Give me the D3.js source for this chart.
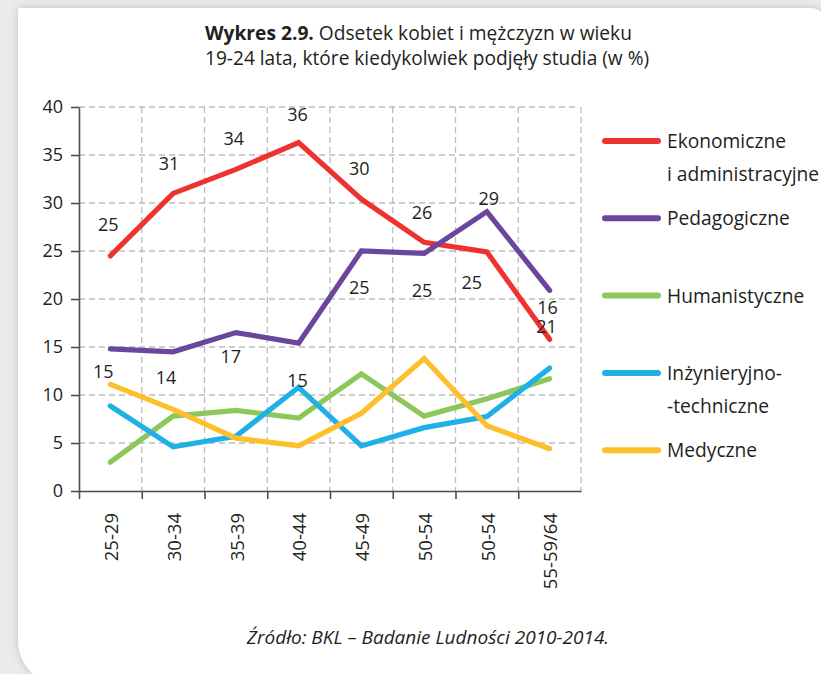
<!DOCTYPE html>
<html>
<head>
<meta charset="utf-8">
<script src="https://cdn.jsdelivr.net/npm/d3@7"></script>
<style>
  html, body { margin: 0; padding: 0; background: #ebebeb; }
  svg { display: block; }
  text { font-family: "Open Sans", "Noto Sans", sans-serif; fill: #231f20; }
</style>
</head>
<body>
<script>
// ---------------- data ----------------
const categories = ["25-29", "30-34", "35-39", "40-44", "45-49", "50-54", "50-54", "55-59/64"];
const ekonomiczne   = [24.5, 31.0, 33.5, 36.3, 30.4, 25.9, 24.9, 15.8];
const pedagogiczne  = [14.8, 14.5, 16.5, 15.4, 25.0, 24.75, 29.1, 20.9];
const humanistyczne = [3.0, 7.8, 8.4, 7.6, 12.2, 7.8, 9.6, 11.7];
const inzynieryjno  = [8.85, 4.6, 5.7, 10.8, 4.7, 6.6, 7.75, 12.8];
const medyczne      = [11.1, 8.5, 5.5, 4.7, 8.1, 13.8, 6.8, 4.4];
const ekonomiczneLabels  = ["25", "31", "34", "36", "30", "26", "25", "16"];
const pedagogiczneLabels = ["15", "14", "17", "15", "25", "25", "29", "21"];
const yTicks = [0, 5, 10, 15, 20, 25, 30, 35, 40];
const legendNames = [["Ekonomiczne", "i administracyjne"], ["Pedagogiczne"], ["Humanistyczne"], ["Inżynieryjno-", "-techniczne"], ["Medyczne"]];
const titleBold = "Wykres 2.9.";
const titleRest = " Odsetek kobiet i mężczyzn w wieku";
const titleLine2 = "19-24 lata, które kiedykolwiek podjęły studia (w %)";
const sourceText = "Źródło: BKL – Badanie Ludności 2010-2014.";

// ---------------- styles / layout ----------------
const colors = ["#ee3231", "#6a479d", "#8cc75c", "#1fb0e5", "#fdbf2b"];
const W = 821, H = 674;
const plot = { left: 79, right: 581, top: 107, bottom: 491 };
// label offsets (px) relative to the point
const ekoDx = [-2, -4, -2, -1, -2, -2, -15, -2];
const ekoDy = [-31, -30, -31, -28, -31, -30, 31, -32];
const pedDx = [-7, -7, -5, -1, -2, -2, 2, -3];
const pedDy = [23, 26, 24, 37, 37, 37, -13, 36];

const svg = d3.select("body").append("svg").attr("width", W).attr("height", H);

// background card
const defs = svg.append("defs");
const f = defs.append("filter").attr("id", "sh").attr("x", "-10%").attr("y", "-10%").attr("width", "120%").attr("height", "120%");
f.append("feDropShadow").attr("dx", 0).attr("dy", 0).attr("stdDeviation", 4).attr("flood-color", "#000").attr("flood-opacity", 0.18);

const cx0 = 18, cy0 = 8, cx1 = 827, cy1 = 686, rTR = 17, rBL = 46;
svg.append("path")
  .attr("d", `M${cx0},${cy0} L${cx1 - rTR},${cy0} A${rTR},${rTR} 0 0 1 ${cx1},${cy0 + rTR} L${cx1},${cy1} L${cx0 + rBL},${cy1} A${rBL},${rBL} 0 0 1 ${cx0},${cy1 - rBL} Z`)
  .attr("fill", "#fff").attr("filter", "url(#sh)");

// scales
const x = d3.scaleBand().domain(d3.range(categories.length)).range([plot.left, plot.right]).padding(0);
const xb = d3.scaleLinear().domain([0, categories.length]).range([plot.left, plot.right]);
const y = d3.scaleLinear().domain([0, 40]).range([plot.bottom, plot.top]);
const cxp = i => x(i) + x.bandwidth() / 2;

// grid
const grid = svg.append("g").attr("stroke", "#bcbcbc").attr("stroke-width", 1.3).attr("stroke-dasharray", "6,4");
grid.selectAll("line.h").data(yTicks.filter(v => v > 0)).join("line")
  .attr("x1", plot.left).attr("x2", plot.right - 2)
  .attr("y1", d => y(d)).attr("y2", d => y(d));
grid.selectAll("line.v").data(d3.range(1, categories.length + 1)).join("line")
  .attr("x1", d => xb(d)).attr("x2", d => xb(d))
  .attr("y1", plot.top).attr("y2", plot.bottom);

// y axis
const yAxis = svg.append("g").attr("transform", `translate(${plot.left},0)`)
  .call(d3.axisLeft(y).tickValues(yTicks).tickSize(8).tickSizeOuter(0).tickPadding(8));
yAxis.select(".domain").attr("stroke", "#4d4d4d").attr("stroke-width", 1.6);
yAxis.selectAll(".tick line").attr("stroke", "#4d4d4d").attr("stroke-width", 1.6);
yAxis.selectAll(".tick text").attr("font-size", 18).attr("fill", "#231f20")
  .style("font-family", '"Open Sans", sans-serif');

// x axis: boundary ticks
const xAxis = svg.append("g").attr("transform", `translate(0,${plot.bottom})`)
  .call(d3.axisBottom(xb).tickValues(d3.range(0, categories.length)).tickSize(8).tickSizeOuter(0).tickFormat(""));
xAxis.select(".domain").attr("stroke", "#4d4d4d").attr("stroke-width", 1.6);
xAxis.selectAll(".tick line").attr("stroke", "#4d4d4d").attr("stroke-width", 1.6);
// x labels
const xLab = svg.append("g").attr("transform", `translate(0,${plot.bottom})`)
  .call(d3.axisBottom(x).tickSize(0).tickFormat(i => categories[i]));
xLab.select(".domain").remove();
xLab.selectAll(".tick text")
  .attr("font-size", 18.5).attr("fill", "#231f20")
  .style("font-family", '"Open Sans", sans-serif')
  .attr("text-anchor", "end")
  .attr("transform", "translate(1,22) rotate(-90)")
  .attr("x", 0).attr("y", 0).attr("dy", "0.36em");

// lines
const allSeries = [ekonomiczne, pedagogiczne, humanistyczne, inzynieryjno, medyczne];
const line = d3.line().x((d, i) => cxp(i)).y(d => y(d));
svg.append("g").selectAll("path").data(allSeries).join("path")
  .attr("d", d => line(d))
  .attr("fill", "none")
  .attr("stroke", (d, i) => colors[i])
  .attr("stroke-width", 5.2)
  .attr("stroke-linecap", "round")
  .attr("stroke-linejoin", "miter");

// value labels
const labG = svg.append("g").attr("font-size", 18).attr("text-anchor", "middle");
labG.selectAll("text.e").data(ekonomiczne).join("text").attr("class", "e")
  .attr("x", (d, i) => cxp(i) + ekoDx[i]).attr("y", (d, i) => y(d) + ekoDy[i]).attr("dy", "0.36em")
  .text((d, i) => ekonomiczneLabels[i]);
labG.selectAll("text.p").data(pedagogiczne).join("text").attr("class", "p")
  .attr("x", (d, i) => cxp(i) + pedDx[i]).attr("y", (d, i) => y(d) + pedDy[i]).attr("dy", "0.36em")
  .text((d, i) => pedagogiczneLabels[i]);

// legend
const legY0 = 141, legStep = 77.3;
const leg = svg.append("g").selectAll("g").data(legendNames).join("g")
  .attr("transform", (d, i) => `translate(605,${legY0 + i * legStep})`);
leg.append("line").attr("x1", 0).attr("x2", 53).attr("y1", 0).attr("y2", 0)
  .attr("stroke", (d, i) => colors[i]).attr("stroke-width", 6).attr("stroke-linecap", "round");
leg.each(function(d) {
  const g = d3.select(this);
  d.forEach((t, k) => {
    g.append("text").attr("x", 62).attr("y", k * 33).attr("dy", "0.36em")
      .attr("font-size", 19.2).text(t);
  });
});

// title
const t1 = svg.append("text").attr("x", 205).attr("y", 40).attr("font-size", 19.2);
t1.append("tspan").attr("font-weight", "bold").text(titleBold);
t1.append("tspan").text(titleRest);
svg.append("text").attr("x", 205).attr("y", 65).attr("font-size", 19.1).text(titleLine2);

// source
svg.append("text").attr("x", 428).attr("y", 644).attr("text-anchor", "middle")
  .attr("font-size", 19).attr("font-style", "italic").text(sourceText);
</script>
</body>
</html>
